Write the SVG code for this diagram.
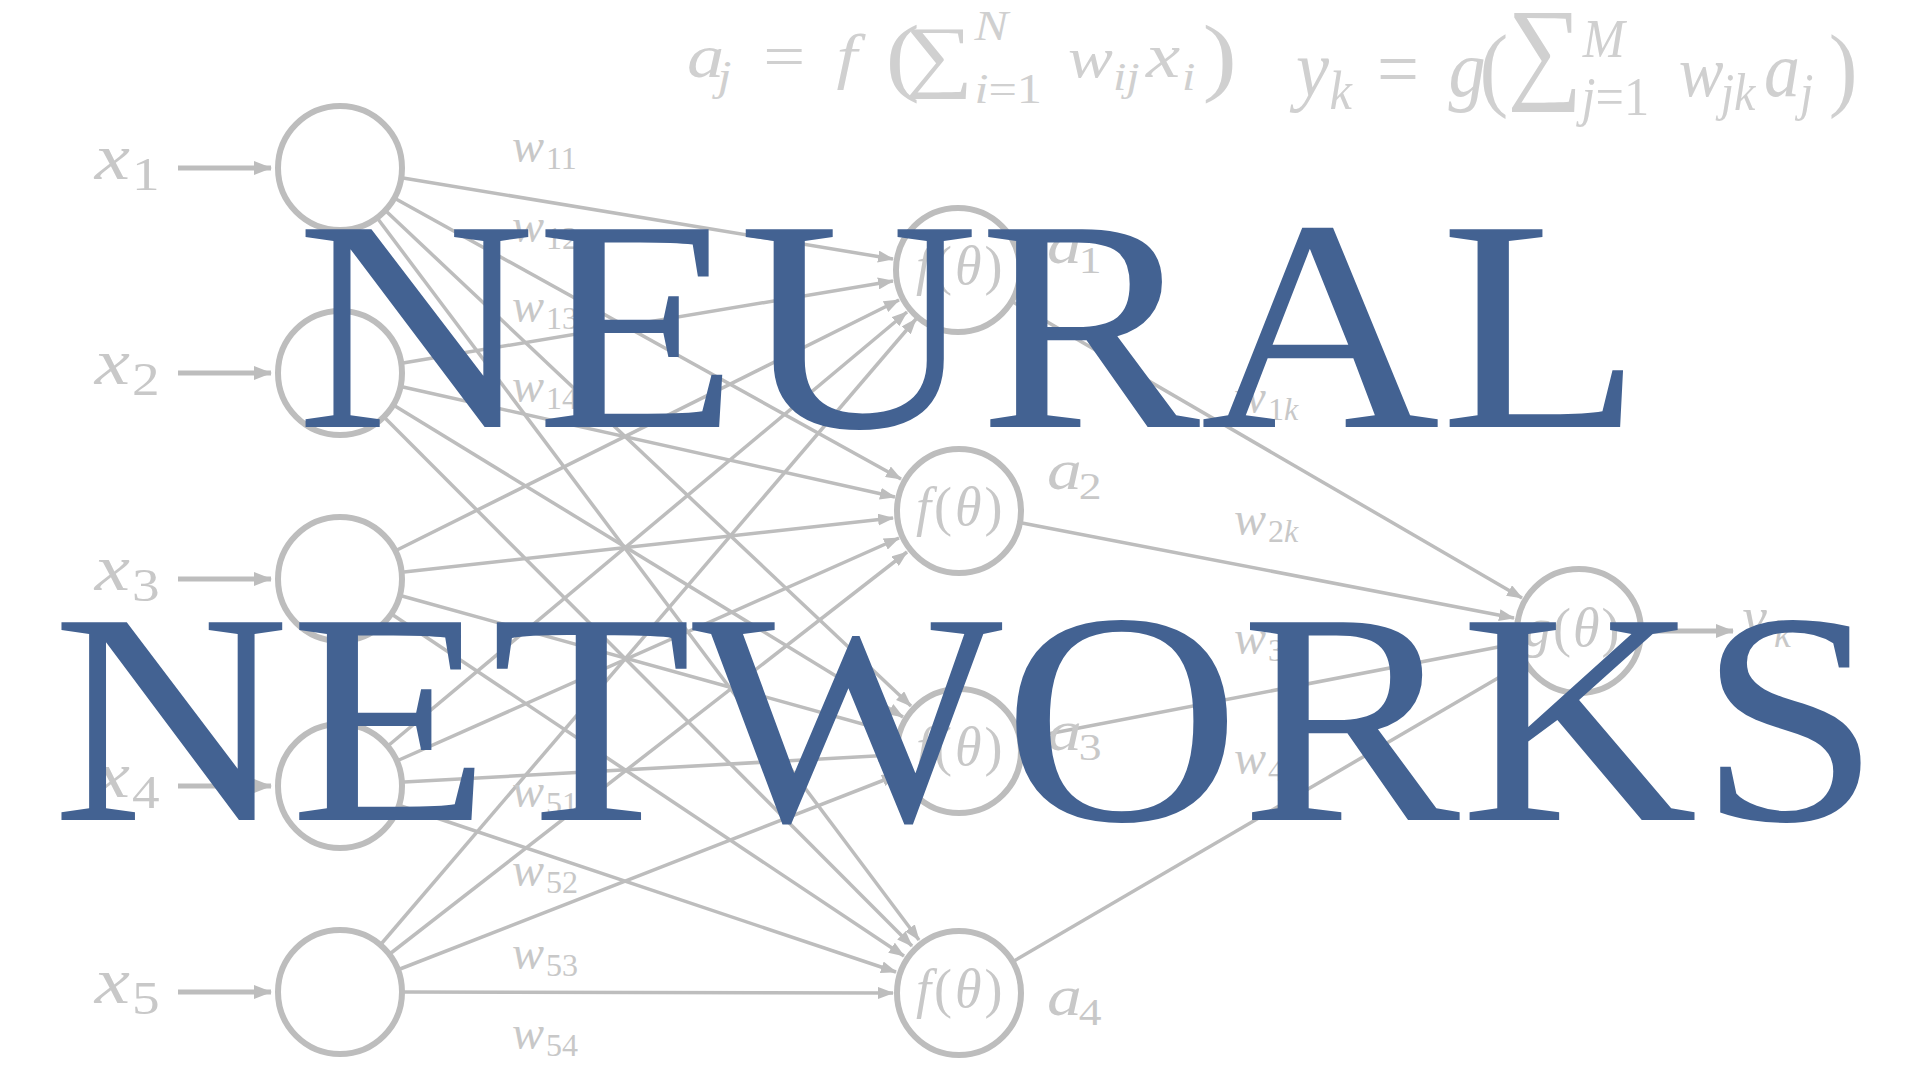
<svg xmlns="http://www.w3.org/2000/svg" width="1920" height="1080" viewBox="0 0 1920 1080">
<style>
.ln{stroke:#bdbdbd;stroke-width:3.5;fill:none}
.inp{stroke:#bdbdbd;stroke-width:5;fill:none}
.nd{fill:none;stroke:#bdbdbd;stroke-width:6}
.m{font-family:"Liberation Serif","DejaVu Serif",serif;fill:#c8c8c8}
.fm{font-family:"Liberation Serif","DejaVu Serif",serif;fill:#d0d0d0}
.it{font-style:italic}
.title{font-family:"Liberation Serif","Times New Roman",serif;fill:#436292}
</style>
<defs>
<marker id="ah" viewBox="0 0 16 12" refX="15" refY="6" markerWidth="16" markerHeight="12" markerUnits="userSpaceOnUse" orient="auto">
<path d="M0,0 L16,6 L0,12 z" fill="#bdbdbd"/>
</marker>
<marker id="ah2" viewBox="0 0 18 14" refX="17" refY="7" markerWidth="18" markerHeight="14" markerUnits="userSpaceOnUse" orient="auto">
<path d="M0,0 L18,7 L0,14 z" fill="#bdbdbd"/>
</marker>
</defs>
<rect width="1920" height="1080" fill="#ffffff"/>

<g id="formulas">
<text class="fm" transform="scale(1.2 1)">
<tspan class="it" x="572.5" y="77" font-size="62">a</tspan><tspan class="it" x="598" y="90" font-size="42">j</tspan>
<tspan x="636" y="77" font-size="62">=</tspan>
<tspan class="it" x="697" y="77" font-size="62">f</tspan>
<tspan x="738" y="85" font-size="86">(</tspan>
<tspan x="754" y="82" font-size="80">∑</tspan>
<tspan class="it" x="812" y="40" font-size="42">N</tspan>
<tspan class="it" x="812" y="103" font-size="42">i</tspan><tspan font-size="42">=1</tspan>
<tspan class="it" x="890" y="77" font-size="56">w</tspan><tspan class="it" x="927.5" y="90" font-size="40">ij</tspan>
<tspan class="it" x="955" y="77" font-size="64">x</tspan><tspan class="it" x="985" y="90" font-size="40">i</tspan>
<tspan x="1002" y="85" font-size="86">)</tspan>
</text>
<text class="fm" transform="matrix(1.2 0 0 1.3 0 -28.8)">
<tspan class="it" x="1080" y="96" font-size="62">y</tspan><tspan class="it" x="1108" y="106" font-size="42">k</tspan>
<tspan x="1147.5" y="96" font-size="62">=</tspan>
<tspan class="it" x="1207" y="96" font-size="62">g</tspan>
<tspan x="1233" y="98" font-size="72">(</tspan>
<tspan x="1256" y="89.5" font-size="88">∑</tspan>
<tspan class="it" x="1319" y="66" font-size="42">M</tspan>
<tspan class="it" x="1318" y="111" font-size="42">j</tspan><tspan font-size="42">=1</tspan>
<tspan class="it" x="1399" y="96" font-size="56">w</tspan><tspan class="it" x="1434" y="107" font-size="40">jk</tspan>
<tspan class="it" x="1470" y="96" font-size="60">a</tspan><tspan class="it" x="1500" y="107" font-size="40">j</tspan>
<tspan x="1524" y="98" font-size="72">)</tspan>
</text>
</g>

<g id="connectors">
<line class="inp" x1="178" y1="168" x2="271" y2="168" marker-end="url(#ah2)"/>
<line class="inp" x1="178" y1="373" x2="271" y2="373" marker-end="url(#ah2)"/>
<line class="inp" x1="178" y1="579" x2="271" y2="579" marker-end="url(#ah2)"/>
<line class="inp" x1="178" y1="786" x2="271" y2="786" marker-end="url(#ah2)"/>
<line class="inp" x1="178" y1="992" x2="271" y2="992" marker-end="url(#ah2)"/>

<line class="ln" x1="403" y1="178" x2="893" y2="259" marker-end="url(#ah)"/>
<line class="ln" x1="396" y1="199" x2="901" y2="479" marker-end="url(#ah)"/>
<line class="ln" x1="387" y1="212" x2="911" y2="706" marker-end="url(#ah)"/>
<line class="ln" x1="378" y1="219" x2="919" y2="940" marker-end="url(#ah)"/>

<line class="ln" x1="403" y1="363" x2="893" y2="281" marker-end="url(#ah)"/>
<line class="ln" x1="403" y1="387" x2="895" y2="497" marker-end="url(#ah)"/>
<line class="ln" x1="395" y1="406" x2="903" y2="717" marker-end="url(#ah)"/>
<line class="ln" x1="385" y1="418" x2="912" y2="946" marker-end="url(#ah)"/>

<line class="ln" x1="397" y1="550" x2="899" y2="300" marker-end="url(#ah)"/>
<line class="ln" x1="404" y1="572" x2="893" y2="518" marker-end="url(#ah)"/>
<line class="ln" x1="402" y1="596" x2="895" y2="733" marker-end="url(#ah)"/>
<line class="ln" x1="393" y1="615" x2="904" y2="956" marker-end="url(#ah)"/>

<line class="ln" x1="389" y1="745" x2="907" y2="312" marker-end="url(#ah)"/>
<line class="ln" x1="399" y1="760" x2="899" y2="538" marker-end="url(#ah)"/>
<line class="ln" x1="404" y1="782" x2="893" y2="755" marker-end="url(#ah)"/>
<line class="ln" x1="401" y1="806" x2="896" y2="972" marker-end="url(#ah)"/>

<line class="ln" x1="382" y1="943" x2="916" y2="319" marker-end="url(#ah)"/>
<line class="ln" x1="391" y1="953" x2="907" y2="552" marker-end="url(#ah)"/>
<line class="ln" x1="400" y1="969" x2="897" y2="775" marker-end="url(#ah)"/>
<line class="ln" x1="404" y1="992" x2="893" y2="993" marker-end="url(#ah)"/>

<line class="ln" x1="1013" y1="302" x2="1522" y2="598" marker-end="url(#ah)"/>
<line class="ln" x1="1022" y1="523" x2="1514" y2="618" marker-end="url(#ah)"/>
<line class="ln" x1="1022" y1="739" x2="1514" y2="644" marker-end="url(#ah)"/>
<line class="ln" x1="1014" y1="961" x2="1522" y2="664" marker-end="url(#ah)"/>

<line class="inp" x1="1645" y1="631" x2="1733" y2="631" marker-end="url(#ah2)"/>
</g>

<g id="x1"><circle class="nd" cx="340" cy="168" r="62"/><text class="m" transform="scale(1.2 1)"><tspan class="it" x="79" y="179" font-size="66">x</tspan><tspan x="110" y="190" font-size="46">1</tspan></text></g>
<g id="x2"><circle class="nd" cx="340" cy="373" r="62"/><text class="m" transform="scale(1.2 1)"><tspan class="it" x="79" y="384" font-size="66">x</tspan><tspan x="110" y="395" font-size="46">2</tspan></text></g>
<g id="x3"><circle class="nd" cx="340" cy="579" r="62"/><text class="m" transform="scale(1.2 1)"><tspan class="it" x="79" y="590" font-size="66">x</tspan><tspan x="110" y="601" font-size="46">3</tspan></text></g>
<g id="x4"><circle class="nd" cx="340" cy="786" r="62"/><text class="m" transform="scale(1.2 1)"><tspan class="it" x="79" y="797" font-size="66">x</tspan><tspan x="110" y="808" font-size="46">4</tspan></text></g>
<g id="x5"><circle class="nd" cx="340" cy="992" r="62"/><text class="m" transform="scale(1.2 1)"><tspan class="it" x="79" y="1003" font-size="66">x</tspan><tspan x="110" y="1014" font-size="46">5</tspan></text></g>

<g id="h1"><circle class="nd" cx="958" cy="270" r="62"/><text class="m" x="916" y="284" font-size="54" letter-spacing="3"><tspan class="it">f</tspan>(<tspan class="it">θ</tspan>)</text><text class="m" transform="scale(1.2 1)"><tspan class="it" x="872.5" y="263" font-size="58">a</tspan><tspan x="899" y="273" font-size="38">1</tspan></text></g>
<g id="h2"><circle class="nd" cx="959" cy="511" r="62"/><text class="m" x="916" y="525" font-size="54" letter-spacing="3"><tspan class="it">f</tspan>(<tspan class="it">θ</tspan>)</text><text class="m" transform="scale(1.2 1)"><tspan class="it" x="872.5" y="489" font-size="58">a</tspan><tspan x="899" y="499" font-size="38">2</tspan></text></g>
<g id="h3"><circle class="nd" cx="959" cy="751" r="62"/><text class="m" x="916" y="765" font-size="54" letter-spacing="3"><tspan class="it">f</tspan>(<tspan class="it">θ</tspan>)</text><text class="m" transform="scale(1.2 1)"><tspan class="it" x="872.5" y="750" font-size="58">a</tspan><tspan x="899" y="760" font-size="38">3</tspan></text></g>
<g id="h4"><circle class="nd" cx="959" cy="993" r="62"/><text class="m" x="916" y="1007" font-size="54" letter-spacing="3"><tspan class="it">f</tspan>(<tspan class="it">θ</tspan>)</text><text class="m" transform="scale(1.2 1)"><tspan class="it" x="872.5" y="1015" font-size="58">a</tspan><tspan x="899" y="1025" font-size="38">4</tspan></text></g>

<g id="out"><circle class="nd" cx="1579" cy="631" r="62"/><text class="m" x="1524" y="646" font-size="54" letter-spacing="2"><tspan class="it">g</tspan>(<tspan class="it">θ</tspan>)</text><text class="m"><tspan class="it" x="1742" y="636" font-size="56">y</tspan><tspan class="it" x="1774" y="647" font-size="38">k</tspan></text></g>

<g id="weights">
<text class="m"><tspan class="it" x="512" y="162" font-size="48">w</tspan><tspan x="546" y="169" font-size="32">11</tspan></text>
<text class="m"><tspan class="it" x="512" y="242" font-size="48">w</tspan><tspan x="546" y="249" font-size="32">12</tspan></text>
<text class="m"><tspan class="it" x="512" y="322" font-size="48">w</tspan><tspan x="546" y="329" font-size="32">13</tspan></text>
<text class="m"><tspan class="it" x="512" y="402" font-size="48">w</tspan><tspan x="546" y="409" font-size="32">14</tspan></text>
<text class="m"><tspan class="it" x="512" y="807" font-size="48">w</tspan><tspan x="546" y="814" font-size="32">51</tspan></text>
<text class="m"><tspan class="it" x="512" y="886" font-size="48">w</tspan><tspan x="546" y="893" font-size="32">52</tspan></text>
<text class="m"><tspan class="it" x="512" y="969" font-size="48">w</tspan><tspan x="546" y="976" font-size="32">53</tspan></text>
<text class="m"><tspan class="it" x="512" y="1049" font-size="48">w</tspan><tspan x="546" y="1056" font-size="32">54</tspan></text>
<text class="m"><tspan class="it" x="1234" y="413" font-size="48">w</tspan><tspan x="1268" y="420" font-size="32">1</tspan><tspan class="it" font-size="32">k</tspan></text>
<text class="m"><tspan class="it" x="1234" y="535" font-size="48">w</tspan><tspan x="1268" y="542" font-size="32">2</tspan><tspan class="it" font-size="32">k</tspan></text>
<text class="m"><tspan class="it" x="1234" y="654" font-size="48">w</tspan><tspan x="1268" y="661" font-size="32">3</tspan><tspan class="it" font-size="32">k</tspan></text>
<text class="m"><tspan class="it" x="1234" y="774" font-size="48">w</tspan><tspan x="1268" y="781" font-size="32">4</tspan><tspan class="it" font-size="32">k</tspan></text>
</g>

<g id="title">
<text class="title" x="296" y="427" font-size="302" textLength="1347" lengthAdjust="spacingAndGlyphs">NEURAL</text>
<text class="title" x="52" y="820" font-size="302" textLength="1829" lengthAdjust="spacingAndGlyphs">NETWORKS</text>
</g>
</svg>
